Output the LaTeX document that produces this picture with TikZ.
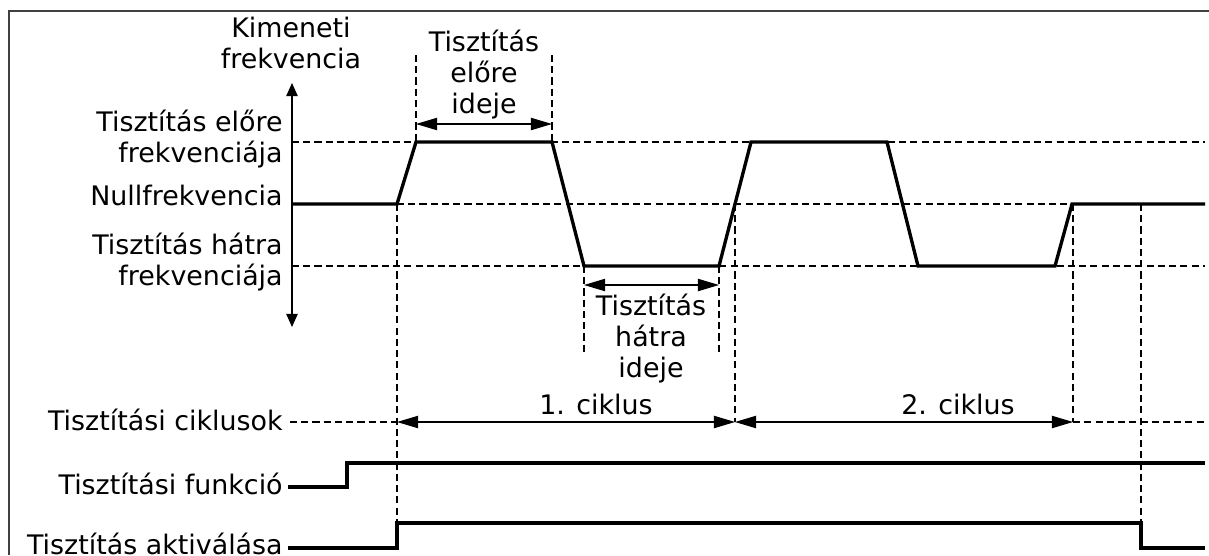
\documentclass[tikz,border=0pt]{standalone}
\usepackage{fontspec}
\setmainfont{DejaVu Sans}
\usetikzlibrary{arrows.meta}

\tikzset{
  signal/.style={line width=1.9pt, line join=miter},
  guide/.style={line width=0.6pt, dash pattern=on 4pt off 2.4pt},
  span/.style={line width=0.6pt, {Triangle[length=12pt,width=7pt]}-{Triangle[length=12pt,width=7pt]}},
  axisline/.style={line width=0.8pt, {Triangle[length=7.5pt,width=6.5pt]}-{Triangle[length=7.5pt,width=6.5pt]}},
  lbl/.style={inner sep=0pt, font=\fontsize{15.3pt}{17.6pt}\selectfont},
}

\begin{document}
\begin{tikzpicture}[x=0.02cm, y=-0.02cm]

\useasboundingbox (0,0) rectangle (1209,555);
\draw [line width=0.8pt, black!75] (9,555) -- (9,11) -- (1209,11);

%LEVELS
\draw [guide] (292,142) -- (1205,142);
\draw [guide] (397,204) -- (1205,204);
\draw [guide] (292,266) -- (1205,266);

%TIME MARKERS
\draw [guide] (416,55) -- (416,142);
\draw [guide] (552,55) -- (552,142);
\draw [guide] (584,266) -- (584,352);
\draw [guide] (719,266) -- (719,352);
\draw [guide] (397,204) -- (397,523);
\draw [guide] (735,204) -- (735,422);
\draw [guide] (1073,204) -- (1073,422);
\draw [guide] (1141,204) -- (1141,523);
\draw [guide] (290,422) -- (397,422);
\draw [guide] (1073,422) -- (1205,422);

\draw [axisline] (292,83) -- (292,327);

%SIGNALS
\draw [signal] (292,204) -- (397,204) -- (416,142) -- (552,142) -- (584,266) -- (719,266)
  -- (751,142) -- (887,142) -- (918,266) -- (1055,266) -- (1072,204) -- (1205,204);
\draw [signal] (288,487) -- (347,487) -- (347,463) -- (1205,463);
\draw [signal] (288,548) -- (397,548) -- (397,523) -- (1141,523) -- (1141,548) -- (1205,548);

%SPANS
\draw [span] (416,124) -- (552,124);
\draw [span] (584,285) -- (719,285);
\draw [span] (397,422) -- (735,422);
\draw [span] (735,422) -- (1073,422);

\node [lbl, anchor=base, align=center] (kimeneti) at (291,68) {Kimeneti\\frekvencia};
\node [lbl, anchor=base east, align=right] (elore) at (283,162) {Tisztítás előre\\frekvenciája};
\node [lbl, anchor=base east] (nulla) at (283,205) {Nullfrekvencia};
\node [lbl, anchor=base east, align=right] (hatra) at (283,285) {Tisztítás hátra\\frekvenciája};

\node [lbl, anchor=base, align=center] (eloreido) at (484,113) {Tisztítás\\előre\\ideje};
\node [lbl, anchor=base, align=center] (hatraido) at (651,377) {Tisztítás\\hátra\\ideje};

\node [lbl, anchor=base] (ciklus1) at (596,414) {1. ciklus};
\node [lbl, anchor=base] (ciklus2) at (958,414) {2. ciklus};

\node [lbl, anchor=base east] (ciklusok) at (283,430) {Tisztítási ciklusok};
\node [lbl, anchor=base east] (funkcio) at (283,494) {Tisztítási funkció};
\node [lbl, anchor=base east] (aktivalas) at (283,554) {Tisztítás aktiválása};

\end{tikzpicture}
\end{document}
